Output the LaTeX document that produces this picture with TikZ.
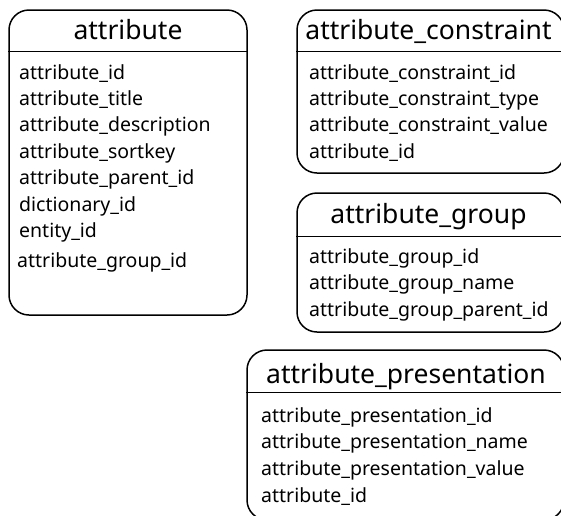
\documentclass[tikz,border=0pt]{standalone}
\usepackage{fontspec}
\setmainfont{Noto Sans}
\usetikzlibrary{positioning}

\begin{document}
\begin{tikzpicture}[
  x = 1pt, y = -1pt,
  tablebox/.style = {draw, line width = 1.5pt, rounded corners = 20pt, inner sep = 0pt},
  tabletitle/.style = {font = \fontsize{26.5}{30}\selectfont, anchor = base, inner sep = 0pt},
  field/.style = {font = \fontsize{19.5}{23}\selectfont, anchor = base west, inner sep = 0pt}
  ]
  \useasboundingbox (0,0) rectangle (561,515);
  \clip (0,0) rectangle (561,515);

  % the four tables
  \node[tablebox, minimum width = 238pt, minimum height = 305pt] (attribute) at (128,162.5) {};
  \node[tablebox, minimum width = 267pt, minimum height = 163pt] (constraint) at (430.5,91.5) {};
  \node[tablebox, minimum width = 267pt, minimum height = 139pt] (group) at (430.5,262.5) {};
  \node[tablebox, minimum width = 317pt, minimum height = 170pt] (presentation) at (405.5,435) {};

  % header lines
  \draw[line width = 1.5pt] ([yshift = -42pt]attribute.north west) -- ([yshift = -42pt]attribute.north east);
  \draw[line width = 1.5pt] ([yshift = -42pt]constraint.north west) -- ([yshift = -42pt]constraint.north east);
  \draw[line width = 1.5pt] ([yshift = -44pt]group.north west) -- ([yshift = -44pt]group.north east);
  \draw[line width = 1.5pt] ([yshift = -43pt]presentation.north west) -- ([yshift = -43pt]presentation.north east);

  % titles
  \node[tabletitle] (attributetitle) at (128,39) {attribute};
  \node[tabletitle] (constrainttitle) at (428.5,39) {attribute\_constraint};
  \node[tabletitle] (grouptitle) at (428.5,223) {attribute\_group};
  \node[tabletitle] (presentationtitle) at (406,383) {attribute\_presentation};

  % fields
  \foreach \f [count = \i] in {attribute\_id, attribute\_title, attribute\_description,
      attribute\_sortkey, attribute\_parent\_id, dictionary\_id, entity\_id}
    \node[field] (attr\i) at (19,{79+26.4*(\i-1)}) {\f};
  \node[field] (attr8) at (17,267) {attribute\_group\_id};

  \foreach \f [count = \i] in {attribute\_constraint\_id, attribute\_constraint\_type,
      attribute\_constraint\_value, attribute\_id}
    \node[field] (cons\i) at (309,{79+26.4*(\i-1)}) {\f};

  \foreach \f [count = \i] in {attribute\_group\_id, attribute\_group\_name,
      attribute\_group\_parent\_id}
    \node[field] (grp\i) at (309,{263+26.7*(\i-1)}) {\f};

  \foreach \f [count = \i] in {attribute\_presentation\_id, attribute\_presentation\_name,
      attribute\_presentation\_value, attribute\_id}
    \node[field] (pres\i) at (261,{422+26.7*(\i-1)}) {\f};
\end{tikzpicture}
\end{document}
